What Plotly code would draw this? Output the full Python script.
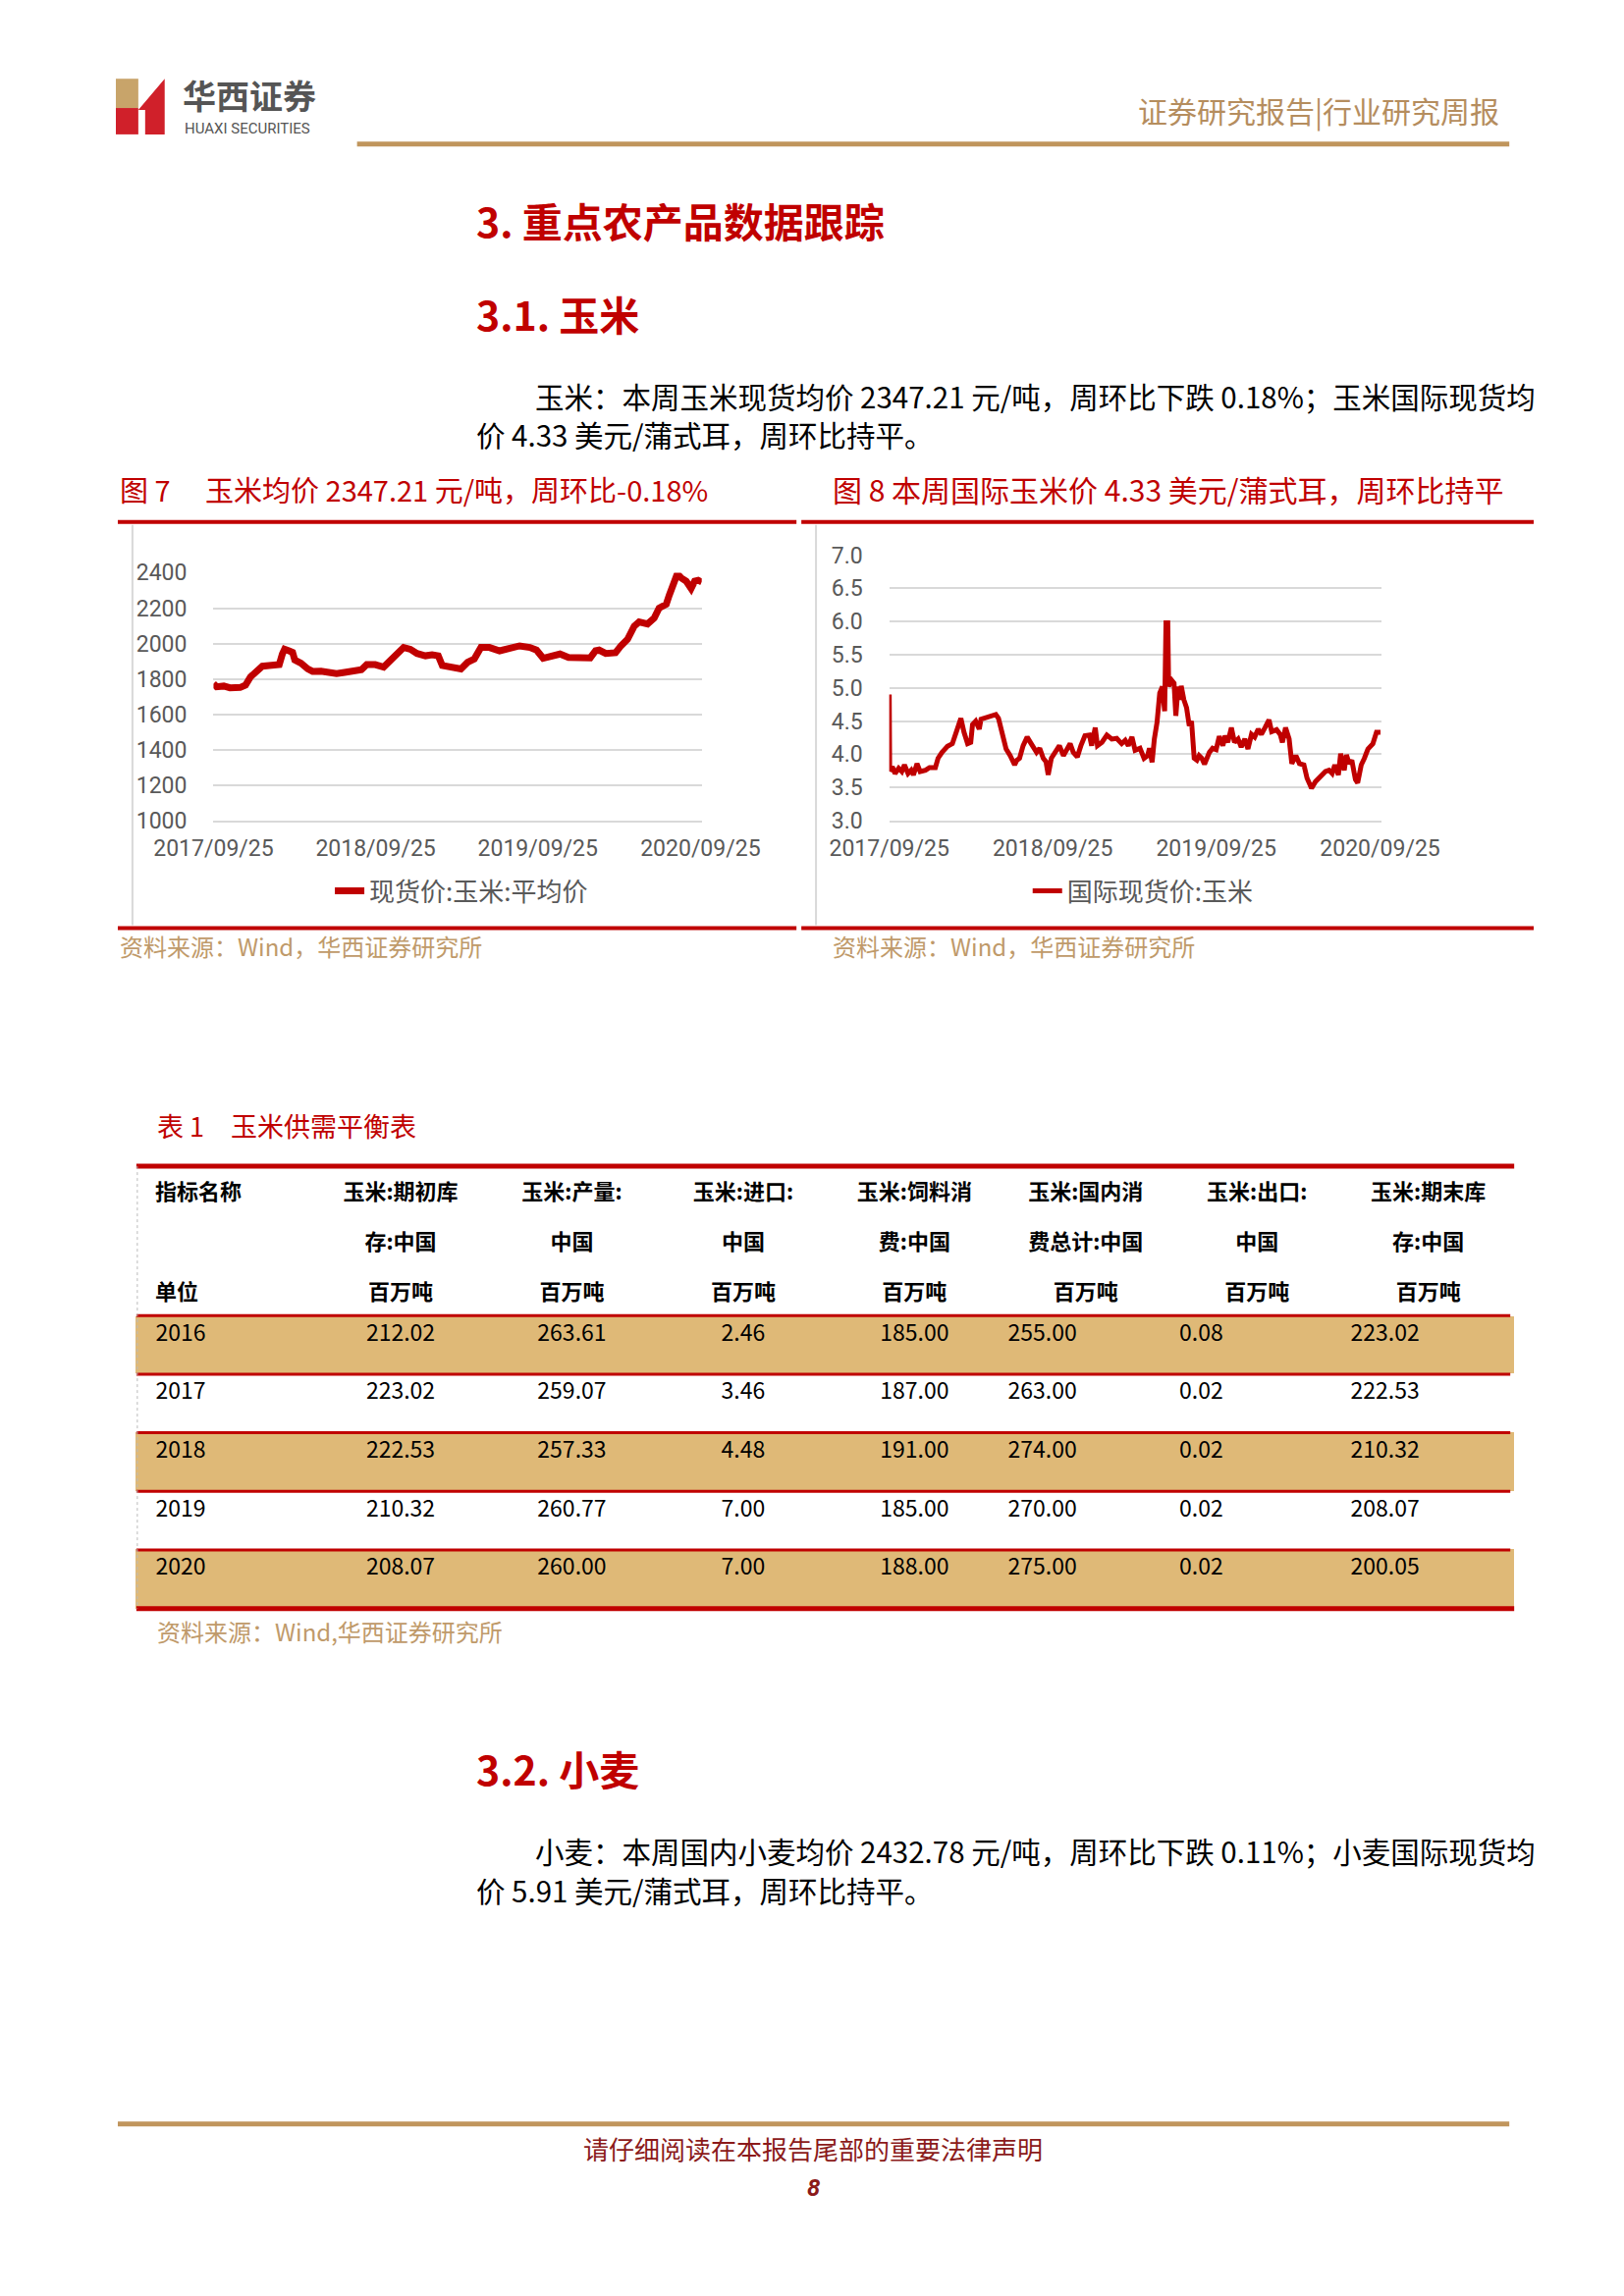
import plotly.graph_objects as go

W, H = 1654, 2339
# the page body margin shifts the figure and the photo is very slightly enlarged;
# page coordinates below are mapped through these two numbers
PAGE_OFFSET = 7.4
PAGE_SCALE = 1.0055

RED = "#c00000"
GOLD = "#c0955c"
SRC_GOLD = "#bf9a6a"
TAN = "#dfb977"
GRID = "#d9d9d9"
TICK = "#595959"
CJK = "Noto Sans CJK SC"
NUM = "Liberation Sans Narrow, Roboto, Noto Sans CJK SC, sans-serif"

# 图7 现货价:玉米:平均价 (元/吨)
CORN_CN_DATES = [
    "2017-09-25", "2017-10-02", "2017-10-18", "2017-11-01", "2017-11-24", "2017-12-06",
    "2017-12-17", "2018-01-01", "2018-01-13", "2018-01-28", "2018-02-20", "2018-02-27",
    "2018-03-04", "2018-03-14", "2018-03-22", "2018-03-27", "2018-04-10", "2018-04-25",
    "2018-05-06", "2018-05-25", "2018-06-17", "2018-06-29", "2018-07-17", "2018-08-09",
    "2018-08-24", "2018-09-05", "2018-09-24", "2018-10-13", "2018-10-24", "2018-11-08",
    "2018-11-27", "2018-12-12", "2018-12-27", "2019-01-15", "2019-01-30", "2019-02-13",
    "2019-02-22", "2019-03-17", "2019-04-05", "2019-04-20", "2019-05-05", "2019-05-20",
    "2019-06-08", "2019-07-01", "2019-07-24", "2019-08-15", "2019-09-07", "2019-09-22",
    "2019-10-07", "2019-10-22", "2019-11-14", "2019-12-03", "2019-12-30", "2020-01-21",
    "2020-02-02", "2020-02-10", "2020-02-25", "2020-03-18", "2020-03-30", "2020-04-14",
    "2020-04-29", "2020-05-10", "2020-05-29", "2020-06-13", "2020-06-24", "2020-07-10",
    "2020-07-17", "2020-07-27", "2020-08-04", "2020-08-13", "2020-08-24", "2020-09-04",
    "2020-09-12", "2020-09-20", "2020-09-28",
]
CORN_CN_PRICE = [
    1774, 1756, 1760, 1750, 1752, 1765,
    1811, 1852, 1872, 1876, 1881, 1941,
    1968, 1959, 1950, 1907, 1889, 1857,
    1843, 1844, 1833, 1830, 1837, 1844,
    1852, 1881, 1881, 1867, 1898, 1931,
    1978, 1968, 1944, 1931, 1937, 1931,
    1876, 1867, 1857, 1894, 1913, 1978,
    1978, 1959, 1978, 1987, 1978, 1963,
    1917, 1926, 1941, 1922, 1917, 1919,
    1959, 1963, 1944, 1948, 1987, 2024,
    2098, 2122, 2111, 2144, 2200, 2222,
    2274, 2357, 2394, 2370, 2352, 2311,
    2352, 2357, 2347.21,
]

# 图8 国际现货价:玉米 (美元/蒲式耳)
CORN_INTL_DATES = [
    "2017-09-25", "2017-09-26", "2017-09-27", "2017-10-02", "2017-10-08", "2017-10-16",
    "2017-10-23", "2017-10-29", "2017-11-06", "2017-11-13", "2017-11-18", "2017-11-26",
    "2017-12-03", "2017-12-15", "2017-12-24", "2018-01-06", "2018-01-12", "2018-01-21",
    "2018-02-02", "2018-02-13", "2018-02-20", "2018-03-04", "2018-03-11", "2018-03-19",
    "2018-03-26", "2018-03-30", "2018-04-06", "2018-04-14", "2018-04-18", "2018-04-29",
    "2018-05-10", "2018-05-21", "2018-05-27", "2018-06-05", "2018-06-13", "2018-06-22",
    "2018-07-02", "2018-07-07", "2018-07-13", "2018-07-21", "2018-07-30", "2018-08-08",
    "2018-08-20", "2018-08-27", "2018-09-04", "2018-09-10", "2018-09-15", "2018-09-22",
    "2018-09-30", "2018-10-10", "2018-10-19", "2018-10-28", "2018-11-03", "2018-11-10",
    "2018-11-19", "2018-11-27", "2018-12-06", "2018-12-16", "2018-12-21", "2018-12-29",
    "2019-01-03", "2019-01-13", "2019-01-24", "2019-02-04", "2019-02-15", "2019-02-26",
    "2019-03-06", "2019-03-13", "2019-03-21", "2019-03-28", "2019-04-08", "2019-04-17",
    "2019-04-25", "2019-04-29", "2019-05-05", "2019-05-10", "2019-05-16", "2019-05-22",
    "2019-05-28", "2019-06-02", "2019-06-05", "2019-06-09", "2019-06-11", "2019-06-17",
    "2019-06-23", "2019-06-27", "2019-07-02", "2019-07-06", "2019-07-09", "2019-07-15",
    "2019-07-21", "2019-07-27", "2019-08-01", "2019-08-07", "2019-08-13", "2019-08-18",
    "2019-08-24", "2019-08-30", "2019-09-05", "2019-09-10", "2019-09-17", "2019-09-25",
    "2019-10-02", "2019-10-10", "2019-10-15", "2019-10-21", "2019-10-29", "2019-11-05",
    "2019-11-13", "2019-11-20", "2019-11-28", "2019-12-05", "2019-12-13", "2019-12-20",
    "2019-12-28", "2020-01-04", "2020-01-12", "2020-01-21", "2020-01-27", "2020-02-07",
    "2020-02-15", "2020-02-20", "2020-02-27", "2020-03-06", "2020-03-12", "2020-03-21",
    "2020-03-29", "2020-04-08", "2020-04-15", "2020-04-25", "2020-05-04", "2020-05-15",
    "2020-05-26", "2020-06-03", "2020-06-10", "2020-06-16", "2020-06-24", "2020-06-29",
    "2020-07-07", "2020-07-12", "2020-07-18", "2020-07-24", "2020-08-01", "2020-08-06",
    "2020-08-14", "2020-08-21", "2020-08-29", "2020-09-09", "2020-09-17", "2020-09-26",
]
CORN_INTL_PRICE = [
    4.90, 3.75, 3.76, 3.81, 3.71, 3.79,
    3.74, 3.84, 3.71, 3.76, 3.69, 3.86,
    3.74, 3.76, 3.80, 3.80, 3.94, 4.03,
    4.12, 4.16, 4.30, 4.54, 4.33, 4.16,
    4.18, 4.45, 4.50, 4.38, 4.53, 4.55,
    4.57, 4.60, 4.54, 4.30, 4.08, 3.98,
    3.84, 3.91, 3.94, 4.13, 4.26, 4.16,
    4.03, 4.09, 3.94, 3.89, 3.69, 3.94,
    4.03, 4.13, 3.98, 4.08, 4.16, 4.03,
    3.96, 4.13, 4.28, 4.29, 4.13, 4.40,
    4.13, 4.18, 4.29, 4.23, 4.24, 4.16,
    4.21, 4.13, 4.26, 4.06, 4.09, 3.94,
    3.98, 4.09, 3.88, 4.23, 4.48, 4.92,
    5.02, 4.65, 5.98, 5.98, 5.02, 5.12,
    5.07, 4.58, 5.02, 4.82, 5.03, 4.82,
    4.70, 4.43, 4.50, 3.94, 3.91, 3.98,
    3.94, 3.85, 3.98, 4.03, 4.09, 4.07,
    4.27, 4.13, 4.28, 4.18, 4.40, 4.18,
    4.23, 4.11, 4.23, 4.08, 4.30, 4.26,
    4.38, 4.30, 4.40, 4.52, 4.34, 4.37,
    4.30, 4.18, 4.40, 4.23, 3.86, 3.98,
    3.86, 3.84, 3.64, 3.49, 3.59, 3.67,
    3.74, 3.76, 3.71, 3.84, 3.69, 4.01,
    3.76, 3.99, 3.86, 3.91, 3.62, 3.57,
    3.84, 3.94, 4.08, 4.16, 4.33, 4.33,
]

DATE_TICKS = ["2017-09-25", "2018-09-25", "2019-09-25", "2020-09-25"]
DATE_RANGE = ["2017-09-25", "2020-09-28"]

# 表1 玉米供需平衡表 (百万吨)
TABLE_YEARS = ["2016", "2017", "2018", "2019", "2020"]
TABLE_HEAD_LINE1 = ["指标名称", "玉米:期初库", "玉米:产量:", "玉米:进口:", "玉米:饲料消",
                    "玉米:国内消", "玉米:出口:", "玉米:期末库"]
TABLE_HEAD_LINE2 = ["", "存:中国", "中国", "中国", "费:中国", "费总计:中国", "中国", "存:中国"]
TABLE_UNITS = ["单位", "百万吨", "百万吨", "百万吨", "百万吨", "百万吨", "百万吨", "百万吨"]
OPENING_STOCK = [212.02, 223.02, 222.53, 210.32, 208.07]
PRODUCTION = [263.61, 259.07, 257.33, 260.77, 260.00]
IMPORTS = [2.46, 3.46, 4.48, 7.00, 7.00]
FEED_USE = [185.00, 187.00, 191.00, 185.00, 188.00]
DOMESTIC_USE = [255.00, 263.00, 274.00, 270.00, 275.00]
EXPORTS = [0.08, 0.02, 0.02, 0.02, 0.02]
ENDING_STOCK = [223.02, 222.53, 210.32, 208.07, 200.05]


def px(x):
    return (x - PAGE_OFFSET) / PAGE_SCALE / W


def py(y):
    return 1 - (y - PAGE_OFFSET) / PAGE_SCALE / H


def add_text(fig, x, y, text, size, color="#000000", bold=False, anchor="left", family=CJK):
    if bold:
        text = f"<b>{text}</b>"
    fig.add_annotation(x=px(x), y=py(y), xref="paper", yref="paper", text=text,
                       showarrow=False, xanchor=anchor, yanchor="middle",
                       font=dict(family=family, size=size, color=color))


def add_line(fig, x0, y0, x1, y1, color, width, dash=None):
    fig.add_shape(type="line", xref="paper", yref="paper",
                  x0=px(x0), y0=py(y0), x1=px(x1), y1=py(y1),
                  line=dict(color=color, width=width, dash=dash))


fig = go.Figure()

# --- charts ---
fig.add_trace(go.Scatter(x=CORN_CN_DATES, y=CORN_CN_PRICE, mode="lines", name="现货价:玉米:平均价",
                         line=dict(color=RED, width=7), xaxis="x", yaxis="y", legend="legend"))
fig.add_trace(go.Scatter(x=CORN_INTL_DATES, y=CORN_INTL_PRICE, mode="lines", name="国际现货价:玉米",
                         line=dict(color=RED, width=5), xaxis="x2", yaxis="y2", legend="legend2"))

tickfont = dict(family=NUM, size=23, color=TICK)
xaxis_common = dict(type="date", range=DATE_RANGE, tickvals=DATE_TICKS, tickformat="%Y/%m/%d",
                    showgrid=False, zeroline=False, ticks="", tickfont=tickfont, automargin=False,
                    showline=True, linecolor=GRID, linewidth=2, ticklabelstandoff=6)
yaxis_common = dict(showgrid=True, gridcolor=GRID, gridwidth=2, zeroline=False, ticks="",
                    tickfont=tickfont, showline=False, ticklabelstandoff=26, automargin=False)

# --- table (heights in page px) ---
TABLE_TOP = 1194
HEADER_H = 51
ROW_H = 60
value_cols = [OPENING_STOCK, PRODUCTION, IMPORTS, FEED_USE, DOMESTIC_USE, EXPORTS, ENDING_STOCK]
cell_values = [["\u2002" + y for y in TABLE_YEARS]] + [[f"{v:.2f}" for v in col] for col in value_cols]
row_fill = [TAN, "white", TAN, "white", TAN]
header_values = [["<b>\u2002" + a + "</b>" if i == 0 else f"<b>{a}</b>",
                  f"<b>{b}</b>",
                  "<b>\u2002" + u + "</b>" if i == 0 else f"<b>{u}</b>"]
                 for i, (a, b, u) in enumerate(zip(TABLE_HEAD_LINE1, TABLE_HEAD_LINE2, TABLE_UNITS))]

fig.add_trace(go.Table(
    domain=dict(x=[px(139), px(1550)], y=[py(1700), py(TABLE_TOP)]),
    columnwidth=[122, 117, 117, 117, 117, 117, 117, 117],
    header=dict(values=header_values, align=["left"] + ["center"] * 7, height=HEADER_H / PAGE_SCALE,
                fill_color="white", line=dict(color="white", width=1),
                font=dict(family=CJK, size=22, color="#000000")),
    cells=dict(values=cell_values, align=["left"] + ["center"] * 4 + ["left"] * 3,
               height=ROW_H / PAGE_SCALE,
               fill_color=[row_fill] * 8, line=dict(color=[row_fill] * 8, width=1),
               font=dict(family=CJK, size=23, color="#000000")),
))

# table rules
body_top = TABLE_TOP + 3 * HEADER_H
add_line(fig, 139, TABLE_TOP, 1550, TABLE_TOP, RED, 5)
for k in range(len(TABLE_YEARS)):
    y = body_top + ROW_H * k
    add_line(fig, 139, y, 1546, y, RED, 3)
add_line(fig, 139, body_top + ROW_H * len(TABLE_YEARS), 1550, body_top + ROW_H * len(TABLE_YEARS), RED, 5)
add_line(fig, 140, TABLE_TOP, 140, body_top + ROW_H * len(TABLE_YEARS), "#bbbbbb", 1, "dot")

# --- page header ---
fig.add_shape(type="rect", xref="paper", yref="paper", x0=px(118), x1=px(141), y0=py(110), y1=py(80),
              fillcolor="#c8a46a", line_width=0)
fig.add_shape(type="rect", xref="paper", yref="paper", x0=px(118), x1=px(141), y0=py(137), y1=py(110),
              fillcolor="#d0202a", line_width=0)
fig.add_shape(type="path", xref="paper", yref="paper",
              path=f"M {px(141)},{py(112)} L {px(168)},{py(80)} L {px(168)},{py(137)} "
                   f"L {px(148)},{py(137)} L {px(148)},{py(112)} Z",
              fillcolor="#d0202a", line_width=0)
add_text(fig, 184, 96, "华西证券", 34, "#555555", bold=True)
add_text(fig, 186, 131, "HUAXI SECURITIES", 15, "#555555", family="Roboto")
add_text(fig, 1537, 112, "证券研究报告|行业研究周报", 30, "#b58d5e", anchor="right")
add_line(fig, 365, 147, 1545, 147, GOLD, 5)

# --- section titles and paragraphs ---
add_text(fig, 485, 225, "3. 重点农产品数据跟踪", 41, RED, bold=True)
add_text(fig, 485, 320, "3.1. 玉米", 41, RED, bold=True)
add_text(fig, 545, 405, "玉米：本周玉米现货均价 2347.21 元/吨，周环比下跌 0.18%；玉米国际现货均", 29.5)
add_text(fig, 485, 444, "价 4.33 美元/蒲式耳，周环比持平。", 29.5)

add_text(fig, 120, 500, "图 7　 玉米均价 2347.21 元/吨，周环比-0.18%", 29, RED)
add_text(fig, 850, 500, "图 8 本周国际玉米价 4.33 美元/蒲式耳，周环比持平", 30, RED)
add_line(fig, 120, 534, 815, 534, RED, 4)
add_line(fig, 820, 534, 1570, 534, RED, 4)
add_line(fig, 120, 950, 815, 950, RED, 4)
add_line(fig, 820, 950, 1570, 950, RED, 4)
add_line(fig, 135, 537, 135, 947, GRID, 2)
add_line(fig, 835, 537, 835, 947, GRID, 2)
add_text(fig, 120, 968, "资料来源：Wind，华西证券研究所", 24, SRC_GOLD)
add_text(fig, 850, 968, "资料来源：Wind，华西证券研究所", 24, SRC_GOLD)

add_text(fig, 158, 1152, "表 1　玉米供需平衡表", 27, RED)
add_text(fig, 158, 1670, "资料来源：Wind,华西证券研究所", 24, SRC_GOLD)

add_text(fig, 485, 1810, "3.2. 小麦", 41, RED, bold=True)
add_text(fig, 545, 1895, "小麦：本周国内小麦均价 2432.78 元/吨，周环比下跌 0.11%；小麦国际现货均", 29.5)
add_text(fig, 485, 1935, "价 5.91 美元/蒲式耳，周环比持平。", 29.5)

# --- footer ---
add_line(fig, 120, 2175, 1545, 2175, GOLD, 5)
add_text(fig, 832, 2200, "请仔细阅读在本报告尾部的重要法律声明", 26, "#8b1a1a", anchor="center")
add_text(fig, 832, 2241, "<i>8</i>", 24, "#8b1a1a", bold=True, anchor="center", family="Roboto")

legend_common = dict(orientation="h", xanchor="center", yanchor="middle", bgcolor="rgba(0,0,0,0)",
                     font=dict(family=CJK, size=26, color=TICK))

fig.update_layout(
    width=W, height=H,
    margin=dict(l=0, r=0, t=0, b=0, pad=0, autoexpand=False),
    paper_bgcolor="white", plot_bgcolor="white",
    showlegend=True,
    xaxis=dict(domain=[px(218), px(718)], anchor="y", **xaxis_common),
    yaxis=dict(domain=[py(840), py(586)], anchor="x", range=[1000, 2400], dtick=200, **yaxis_common),
    xaxis2=dict(domain=[px(910), px(1414)], anchor="y2", **xaxis_common),
    yaxis2=dict(domain=[py(840), py(568)], anchor="x2", range=[3, 7], dtick=0.5, tickformat=".1f",
                **yaxis_common),
    legend=dict(x=px(472), y=py(912), **legend_common),
    legend2=dict(x=px(1170), y=py(912), **legend_common),
)

fig.write_html("out.html")
